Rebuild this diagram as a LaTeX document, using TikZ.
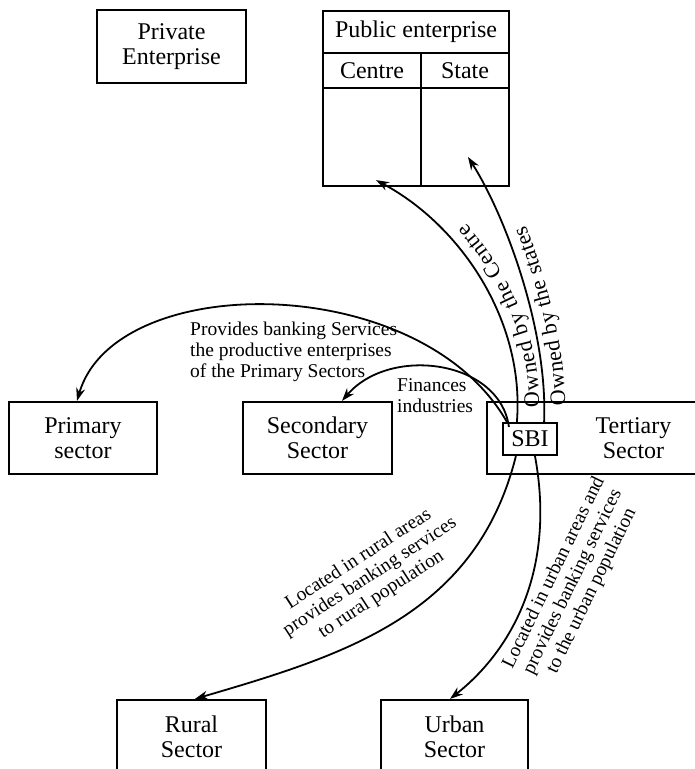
\documentclass[tikz,border=0pt]{standalone}
\usepackage{fontspec}
\setmainfont{Liberation Serif}
\usetikzlibrary{arrows.meta,decorations.text}

\begin{document}
\begin{tikzpicture}[x=1pt,y=-1pt,
  box/.style={draw, line width=2.2pt, align=center, inner sep=0pt, font=\fontsize{24}{25}\selectfont},
  lab/.style={align=center, inner sep=0pt, font=\fontsize{19.5}{21}\selectfont},
  link/.style={line width=1.8pt, -{Stealth[length=13pt,width=9pt]}}]
\useasboundingbox (0,0) rectangle (695,769);
% top row
\node[box, minimum width=149pt, minimum height=73pt] (priv) at (171.5,46.5) {Private\\Enterprise};
\node[box, minimum width=186pt, minimum height=42pt] (pub) at (416,32) {Public enterprise};
\node[box, minimum width=98pt, minimum height=35pt] (ctr) at (372,70.5) {Centre};
\node[box, minimum width=88pt, minimum height=35pt] (st) at (465,70.5) {State};
\node[box, minimum width=98pt, minimum height=98pt] (ctrcell) at (372,137) {};
\node[box, minimum width=88pt, minimum height=98pt] (stcell) at (465,137) {};
% sectors
\node[box, minimum width=148pt, minimum height=72pt] (prim) at (83,438) {Primary\\sector};
\node[box, minimum width=149pt, minimum height=72pt] (sec) at (317.5,438) {Secondary\\Sector};
\node[box, minimum width=293pt, minimum height=72pt] (tert) at (633.5,438) {Tertiary\\Sector};
\node[box, minimum width=54pt, minimum height=32pt, fill=white] (sbi) at (530,439) {SBI};
\node[box, minimum width=149pt, minimum height=74pt] (rur) at (191.5,737) {Rural\\Sector};
\node[box, minimum width=147pt, minimum height=74pt] (urb) at (454.5,737) {Urban\\Sector};
% links from SBI
\draw[link] ([xshift=5pt]sbi.north west) .. controls (420,270) and (115,270) .. ([xshift=-6pt]prim.north);
\draw[link] ([xshift=7pt,yshift=-5pt]sbi.north west) .. controls (500,360) and (390,345) .. ([xshift=24.5pt]sec.north);
\draw[link] ([xshift=15pt]sbi.north west) .. controls (525,320) and (460,225) .. ([xshift=4pt,yshift=7pt]ctrcell.south);
\draw[link] ([xshift=-14pt]sbi.north east) .. controls (548,330) and (505,215) .. ([xshift=3pt,yshift=-20pt]stcell.center);
\draw[link] ([xshift=14pt]sbi.south west) .. controls (476,615) and (345,655) .. ([xshift=3.5pt]rur.north);
\draw[link] ([xshift=5pt]sbi.south) .. controls (556,570) and (512,650) .. ([xshift=-4.5pt]urb.north);
% labels
\path[decorate, decoration={text along path, raise=-21.5pt, text align={left indent=14pt},
  text={|\fontsize{22}{22}\selectfont|Owned by the Centre}}]
  ([xshift=15pt]sbi.north west) .. controls (525,320) and (460,225) .. ([xshift=4pt,yshift=7pt]ctrcell.south);
\path[decorate, decoration={text along path, raise=-21pt, text align={left indent=16pt},
  text={|\fontsize{22}{22}\selectfont|Owned by the states}}]
  ([xshift=-14pt]sbi.north east) .. controls (548,330) and (505,215) .. ([xshift=3pt,yshift=-20pt]stcell.center);
\node[lab, align=left, anchor=north west] (provlab) at (190,322) {Provides banking Services\\the productive enterprises\\of the Primary Sectors};
\node[lab, align=left, anchor=north west] (finlab) at (397,378) {Finances\\industries};
\node[lab, rotate=33] (rurlab) at (370,577) {Located in rural areas\\provides banking services\\to rural population};
\node[lab, rotate=64] (urblab) at (573,582) {Located in urban areas and\\provides banking services\\to the urban population};
\end{tikzpicture}
\end{document}
